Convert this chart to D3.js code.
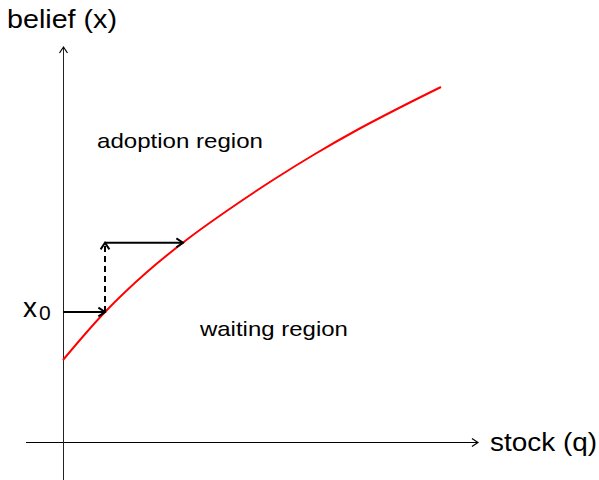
<!DOCTYPE html>
<html>
<head>
<meta charset="utf-8">
<script src="https://cdn.jsdelivr.net/npm/d3@7"></script>
<style>
  html, body { margin: 0; padding: 0; background: #fff; }
  svg { display: block; }
  text { font-family: "Liberation Sans", Arial, sans-serif; fill: #000; }
</style>
</head>
<body>
<svg id="chart" width="599" height="480"></svg>
<script>
// Threshold curve: adoption belief as a function of the stock
const stockValues  = [0, 1, 2, 3, 4, 5, 6, 7, 8, 9];
const beliefValues = [2.05, 3.25, 4.25, 5.1, 5.85, 6.55, 7.2, 7.8, 8.35, 8.875];

// Axis extents (data units)
const stockExtent  = [-0.88, 9.88];
const beliefExtent = [-0.95, 9.875];

// Dynamic path: start at x0, belief jumps, then stock grows to the boundary
const q0 = 1, x0 = 3.25;
const x1 = 4.98, q1 = 2.857;

// Labels
const axisLabels = { x: "stock (q)", y: "belief (x)" };
const regionLabels = [
  { text: "adoption region", q: 0.81, b: 7.35, len: 166 },
  { text: "waiting region",  q: 3.26, b: 2.65, len: 148 }
];

const svg = d3.select("#chart");

const xScale = d3.scaleLinear().domain([0, 9]).range([63, 441]);
const yScale = d3.scaleLinear().domain([0, 10]).range([442, 42]);

// arrowhead markers
const defs = svg.append("defs");
function chevron(id, size, width, color) {
  defs.append("marker")
    .attr("id", id)
    .attr("viewBox", "-10 -6 12 12")
    .attr("refX", 0).attr("refY", 0)
    .attr("markerUnits", "userSpaceOnUse")
    .attr("markerWidth", size * 1.2).attr("markerHeight", size * 1.2)
    .attr("orient", "auto")
    .append("path")
    .attr("d", "M-6,-4 L0,0 L-6,4")
    .attr("fill", "none")
    .attr("stroke", color)
    .attr("stroke-width", width);
}
chevron("axisHead", 10, 1.2, "#000");
chevron("stepHead", 11, 1.8, "#000");

// axes
const ox = Math.round(xScale(0)) + 0.5;
const oy = Math.round(yScale(0)) + 0.5;
svg.append("line")
  .attr("x1", xScale(stockExtent[0])).attr("y1", oy)
  .attr("x2", xScale(stockExtent[1])).attr("y2", oy)
  .attr("stroke", "#000").attr("stroke-width", 1)
  .attr("marker-end", "url(#axisHead)");
svg.append("line")
  .attr("x1", ox).attr("y1", yScale(beliefExtent[0]))
  .attr("x2", ox).attr("y2", yScale(beliefExtent[1]))
  .attr("stroke", "#222").attr("stroke-width", 1)
  .attr("marker-end", "url(#axisHead)");

// threshold curve
const line = d3.line()
  .x(d => xScale(d[0]))
  .y(d => yScale(d[1]))
  .curve(d3.curveCatmullRom.alpha(0.5));
svg.append("path")
  .datum(d3.zip(stockValues, beliefValues))
  .attr("d", line)
  .attr("fill", "none")
  .attr("stroke", "#ff0000")
  .attr("stroke-width", 2);

// step arrows
svg.append("line")
  .attr("x1", xScale(0)).attr("y1", yScale(x0))
  .attr("x2", xScale(q0)).attr("y2", yScale(x0))
  .attr("stroke", "#000").attr("stroke-width", 2)
  .attr("marker-end", "url(#stepHead)");
svg.append("line")
  .attr("x1", xScale(q0)).attr("y1", yScale(x0))
  .attr("x2", xScale(q0)).attr("y2", yScale(x1))
  .attr("stroke", "#000").attr("stroke-width", 2)
  .attr("stroke-dasharray", "6,4")
  .attr("marker-end", "url(#stepHead)");
svg.append("line")
  .attr("x1", xScale(q0)).attr("y1", yScale(x1))
  .attr("x2", xScale(q1)).attr("y2", yScale(x1))
  .attr("stroke", "#000").attr("stroke-width", 2)
  .attr("marker-end", "url(#stepHead)");

// axis labels
svg.append("text")
  .attr("x", 7).attr("y", 28)
  .attr("font-size", 25)
  .attr("textLength", 110).attr("lengthAdjust", "spacingAndGlyphs")
  .text(axisLabels.y);
svg.append("text")
  .attr("x", 490).attr("y", 450.5)
  .attr("font-size", 25)
  .attr("textLength", 107).attr("lengthAdjust", "spacingAndGlyphs")
  .text(axisLabels.x);

// initial belief label
const x0Label = svg.append("text")
  .attr("x", 23).attr("y", yScale(x0) + 5);
x0Label.append("tspan").attr("font-size", 28).text("x");
x0Label.append("tspan").attr("font-size", 21).attr("dx", 2).attr("dy", 3).text("0");

// region labels
svg.selectAll("text.region")
  .data(regionLabels)
  .join("text")
  .attr("class", "region")
  .attr("x", d => xScale(d.q))
  .attr("y", d => yScale(d.b))
  .attr("font-size", 21)
  .attr("textLength", d => d.len)
  .attr("lengthAdjust", "spacingAndGlyphs")
  .text(d => d.text);
</script>
</body>
</html>
